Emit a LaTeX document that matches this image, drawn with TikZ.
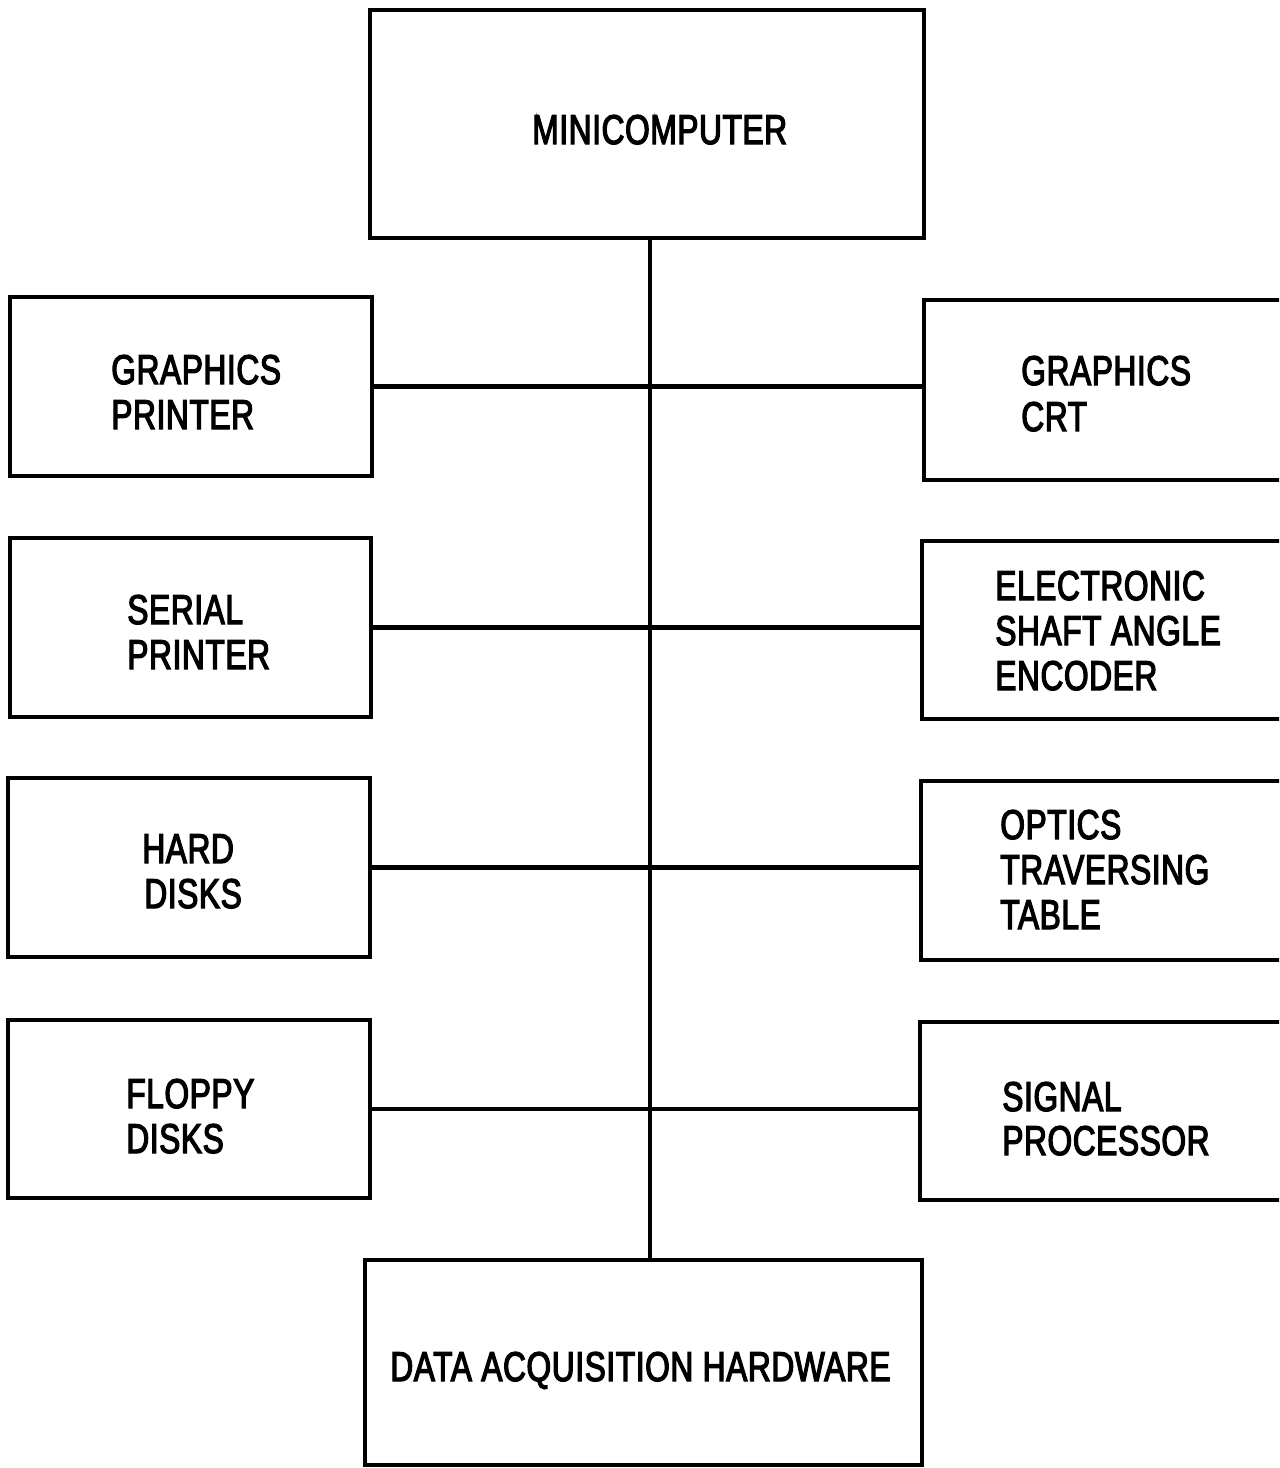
\documentclass[tikz,border=0pt]{standalone}
\usepackage{fontspec}
\setmainfont{Liberation Sans}[FakeStretch=0.76,FakeBold=3,LetterSpace=1.5]
\begin{document}
\begin{tikzpicture}[x=0.02cm,y=-0.02cm,
  box/.style={draw,line width=0.09cm,rectangle,inner sep=0pt,outer sep=0pt},
  wire/.style={line width=0.09cm},
  lbl/.style={anchor=base west,inner sep=0pt,font=\fontsize{23.7}{28}\selectfont}]
\clip (0,0) rectangle (1279,1468);
\fill[white] (0,0) rectangle (1279,1468);
\newcommand\bx[5]{\node[box,minimum width={(#4-#2)*0.02cm},minimum height={(#5-#3)*0.02cm}] (#1) at ({(#2+#4)/2},{(#3+#5)/2}) {};}
\bx{mini}{370}{10}{924}{238}
\bx{gp}{10}{297}{372}{476}
\bx{gc}{924}{300}{1310}{480}
\bx{sp}{10}{538}{371}{717}
\bx{ese}{922}{541}{1310}{719}
\bx{hd}{8}{778}{370}{957}
\bx{ott}{921}{781}{1310}{960}
\bx{fd}{8}{1020}{370}{1198}
\bx{sig}{920}{1022}{1310}{1200}
\bx{daq}{365}{1260}{922}{1465}
\coordinate (bus) at (650,700);
\draw[wire] (mini.south -| bus) -- (daq.north -| bus);
\draw[wire] (gp.east) -- (gp.east -| gc.west);
\draw[wire] (sp.east) -- (sp.east -| ese.west);
\draw[wire] (hd.east) -- (hd.east -| ott.west);
\draw[wire] (fd.east) -- (fd.east -| sig.west);
\node[lbl] (t1) at (532,144) {MINICOMPUTER};
\node[lbl] (t2) at (111,384) {GRAPHICS};
\node[lbl] (t3) at (111,429) {PRINTER};
\node[lbl] (t4) at (1021,385) {GRAPHICS};
\node[lbl] (t5) at (1021,431) {CRT};
\node[lbl] (t6) at (127,624) {SERIAL};
\node[lbl] (t7) at (127,669) {PRINTER};
\node[lbl] (t8) at (995,600) {ELECTRONIC};
\node[lbl] (t9) at (995,645) {SHAFT ANGLE};
\node[lbl] (t10) at (995,690) {ENCODER};
\node[lbl] (t11) at (142,863) {HARD};
\node[lbl] (t12) at (144,908) {DISKS};
\node[lbl] (t13) at (1000,839) {OPTICS};
\node[lbl] (t14) at (1000,884) {TRAVERSING};
\node[lbl] (t15) at (1000,929) {TABLE};
\node[lbl] (t16) at (126,1108) {FLOPPY};
\node[lbl] (t17) at (126,1153) {DISKS};
\node[lbl] (t18) at (1002,1111) {SIGNAL};
\node[lbl] (t19) at (1002,1155) {PROCESSOR};
\node[lbl] (t20) at (390,1381) {DATA ACQUISITION HARDWARE};
\end{tikzpicture}
\end{document}
